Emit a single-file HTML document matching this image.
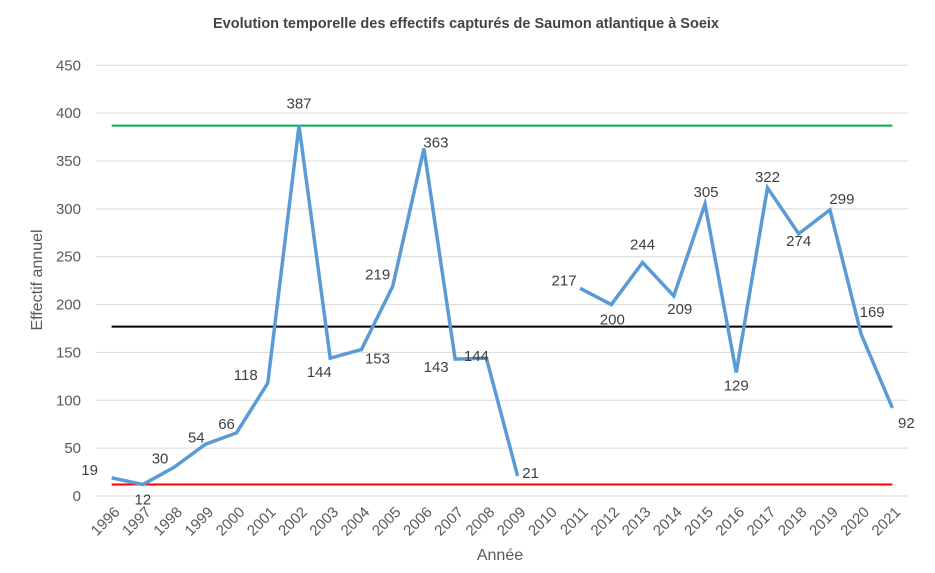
<!DOCTYPE html>
<html><head><meta charset="utf-8"><style>
body{margin:0;background:#fff;font-family:"Liberation Sans",Arial,sans-serif}
svg text{font-family:"Liberation Sans",Arial,sans-serif}
</style></head><body>
<svg width="935" height="568" viewBox="0 0 935 568">
<rect width="935" height="568" fill="#fff"/>
<text x="466" y="28" text-anchor="middle" font-size="14.5" font-weight="bold" fill="#444">Evolution temporelle des effectifs capturés de Saumon atlantique à Soeix</text>
<g id="grid"></g><g id="refs"></g><g id="series"></g><g id="labels"></g><g id="yt"></g><g id="xt"></g>
<text transform="translate(42,280) rotate(-90)" text-anchor="middle" font-size="16" fill="#595959">Effectif annuel</text>
<text x="500" y="560" text-anchor="middle" font-size="16" fill="#595959">Année</text>
</svg>
<script>
const years=[1996,1997,1998,1999,2000,2001,2002,2003,2004,2005,2006,2007,2008,2009,2010,2011,2012,2013,2014,2015,2016,2017,2018,2019,2020,2021];
const values=[19,12,30,54,66,118,387,144,153,219,363,143,144,21,null,217,200,244,209,305,129,322,274,299,169,92];
const yTicks=[0,50,100,150,200,250,300,350,400,450];
const refMax=387, refMean=177, refMin=12;
const lblDx=[-22,0,-14,-9,-10,-22,0,-11,16,-15,12,-19,-10,13,0,-16,1,0,6,1,0,0,0,12,11,14];
const lblDy=[-8,15,-9,-7,-9,-8,-22,14,9,-12,-6,8,-2,-3,0,-8,15,-18,13,-12,13,-11,7,-11,-22,15];
const ns="http://www.w3.org/2000/svg";
const X0=96,X1=908,Y0=496,Y1=65.3;
const x=i=>X0+(X1-X0)/years.length*(i+0.5);
const y=v=>Y0-(Y0-Y1)*v/450;
function mk(t,a,p){const e=document.createElementNS(ns,t);for(const k in a)e.setAttribute(k,a[k]);p.appendChild(e);return e;}
const g=document.getElementById('grid'),yt=document.getElementById('yt'),xt=document.getElementById('xt');
yTicks.forEach(v=>{
 const l=mk('line',{x1:X0,x2:X1,y1:y(v),y2:y(v),stroke:'#d9d9d9','stroke-width':1},g);
 
 
 const t=mk('text',{x:81,y:y(v)+5,'text-anchor':'end','font-size':15,fill:'#595959'},yt);
 t.textContent=v;
 
 
});
years.forEach((yr,i)=>{
 const t=mk('text',{transform:`translate(${x(i)+9},${513}) rotate(-45)`,'text-anchor':'end','font-size':15,fill:'#595959'},xt);
 t.textContent=yr;
 
 
});
const r=document.getElementById('refs');
[[refMax,'#00b050','max-line'],[refMean,'#000','mean-line'],[refMin,'#ff0000','min-line']].forEach(([v,c,n])=>{
 const l=mk('line',{x1:x(0),x2:x(years.length-1),y1:y(v),y2:y(v),stroke:c,'stroke-width':2},r);
 
 
});
const s=document.getElementById('series');
let d='',pen=false;
values.forEach((v,i)=>{if(v==null){pen=false;return;}d+=(pen?'L':'M')+x(i)+','+y(v)+' ';pen=true;});
const p=mk('path',{d:d,fill:'none',stroke:'#5b9bd5','stroke-width':3.5,'stroke-linejoin':'miter'},s);


const lg=document.getElementById('labels');
values.forEach((v,i)=>{if(v==null)return;
 const t=mk('text',{x:x(i)+lblDx[i],y:y(v)+lblDy[i]+5,'text-anchor':'middle','font-size':15,fill:'#404040'},lg);
 t.textContent=v;
 
 
});
</script>
</body></html>
